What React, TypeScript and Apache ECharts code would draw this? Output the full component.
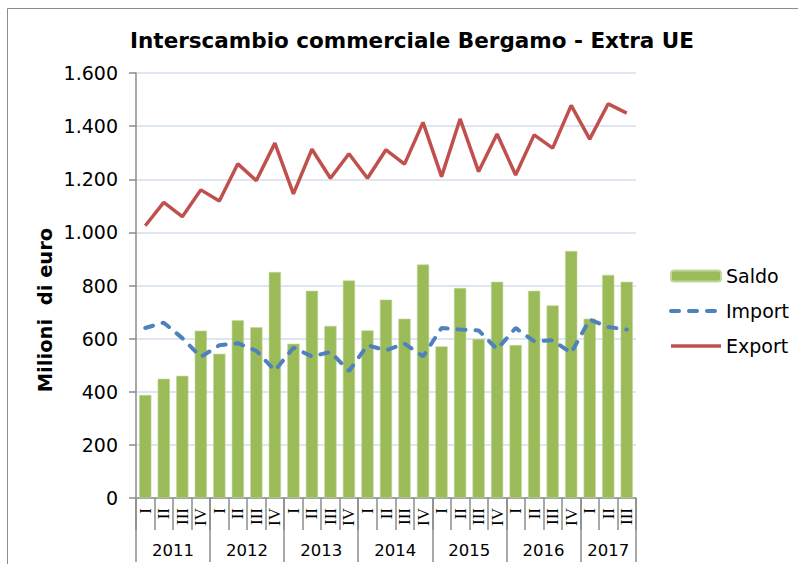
import React, { useEffect, useRef } from "react";
import * as echarts from "echarts";

const quarters = [
  "I", "II", "III", "IV",
  "I", "II", "III", "IV",
  "I", "II", "III", "IV",
  "I", "II", "III", "IV",
  "I", "II", "III", "IV",
  "I", "II", "III", "IV",
  "I", "II", "III",
];
const years = ["2011", "2012", "2013", "2014", "2015", "2016", "2017"];
const quartersPerYear = [4, 4, 4, 4, 4, 4, 3];

const saldo = [388, 449, 460, 630, 543, 669, 643, 851, 581, 780, 648, 819, 631, 747, 675, 879, 571, 791, 599, 814, 576, 780, 725, 930, 675, 840, 814];
const importVals = [640, 660, 602, 531, 575, 583, 554, 480, 566, 533, 550, 478, 575, 556, 581, 533, 640, 634, 631, 560, 640, 590, 594, 546, 672, 644, 634];
const exportVals = [1025, 1113, 1059, 1160, 1118, 1258, 1195, 1336, 1145, 1313, 1204, 1296, 1204, 1311, 1257, 1414, 1210, 1427, 1229, 1370, 1216, 1367, 1317, 1478, 1351, 1484, 1449];

const yTicks = { min: 0, max: 1600, interval: 200 };

function fmt(v: number): string {
  return String(v).replace(/\B(?=(\d{3})+(?!\d))/g, ".");
}

// Build a half-quarter point axis for year labels / separators
const yearPoints: string[] = [];
const yearTickIdx = new Set<number>();
const yearLabelIdx = new Set<number>();
{
  const totalHalves = quarters.length * 2;
  for (let i = 0; i <= totalHalves; i++) yearPoints.push("");
  let pos = 0;
  yearTickIdx.add(0);
  years.forEach((y, i) => {
    const n = quartersPerYear[i] * 2;
    const mid = pos + Math.round(n / 2);
    yearPoints[mid] = y;
    yearLabelIdx.add(mid);
    pos += n;
    yearTickIdx.add(pos);
  });
}

export default function App() {
  const ref = useRef<HTMLDivElement>(null);
  useEffect(() => {
    if (!ref.current) return;
    const chart = echarts.init(ref.current, undefined, { renderer: "svg" });
    const sans = "DejaVu Sans";
    const importLine = { color: "#4F81BD", width: 4, type: [8, 10], cap: "round" };
    const exportLine = { color: "#C0504D", width: 3.5 };
    chart.setOption({
      animation: false,
      backgroundColor: "#fff",
      title: {
        text: "Interscambio commerciale Bergamo - Extra UE",
        left: 407,
        top: 24,
        textAlign: "center",
        textStyle: { fontFamily: sans, fontWeight: "bold", fontSize: 21.5, color: "#000" },
      },
      graphic: [
        {
          type: "rect",
          shape: { x: 7.5, y: 8.5, width: 820, height: 700 },
          style: { fill: "none", stroke: "#8c8c8c", lineWidth: 1 },
          silent: true,
        },
        {
          type: "text",
          x: 45,
          y: 310,
          rotation: Math.PI / 2,
          style: {
            text: "Milioni  di euro",
            fontFamily: sans,
            fontWeight: "bold",
            fontSize: 19.5,
            fill: "#000",
            align: "center",
            verticalAlign: "middle",
          },
        },
      ],
      legend: {
        orient: "vertical",
        left: 664,
        top: 261,
        itemWidth: 50,
        itemHeight: 11,
        itemGap: 15,
        data: [
          { name: "Saldo" },
          { name: "Import", itemStyle: { opacity: 0 }, lineStyle: importLine },
          { name: "Export", itemStyle: { opacity: 0 }, lineStyle: exportLine },
        ],
        textStyle: { fontFamily: sans, fontSize: 19, color: "#000", lineHeight: 20 },
      },
      grid: { left: 136, right: 162, top: 73, bottom: 66, containLabel: false },
      xAxis: [
        {
          type: "category",
          data: quarters,
          position: "bottom",
          boundaryGap: true,
          axisLine: { show: true, lineStyle: { color: "#8c8c8c", width: 1.5 } },
          axisTick: { show: true, interval: 0, length: 32, lineStyle: { color: "#8c8c8c", width: 1.5 } },
          axisLabel: {
            interval: 0,
            rotate: 90,
            margin: 10,
            fontFamily: "Liberation Serif",
            fontSize: 17,
            color: "#000",
          },
        },
        {
          type: "category",
          data: yearPoints,
          position: "bottom",
          offset: 0,
          boundaryGap: false,
          axisLine: { show: false },
          axisTick: {
            show: true,
            length: 64,
            interval: (i: number) => yearTickIdx.has(i),
            lineStyle: { color: "#8c8c8c", width: 1.5 },
          },
          axisLabel: {
            interval: (i: number) => yearLabelIdx.has(i),
            margin: 44,
            fontFamily: sans,
            fontSize: 16.5,
            color: "#000",
          },
        },
      ],
      yAxis: {
        type: "value",
        min: yTicks.min,
        max: yTicks.max,
        interval: yTicks.interval,
        axisLine: { show: true, lineStyle: { color: "#8c8c8c", width: 1.5 } },
        axisTick: { show: true, length: 7, lineStyle: { color: "#8c8c8c", width: 1.5 } },
        axisLabel: {
          margin: 18,
          fontFamily: sans,
          fontSize: 19,
          color: "#000",
          formatter: (v: number) => fmt(v),
        },
        splitLine: { show: true, lineStyle: { color: "#d3deef", width: 1.5 } },
      },
      series: [
        {
          name: "Saldo",
          type: "bar",
          data: saldo,
          barWidth: "66%",
          itemStyle: { color: "#9BBB59", borderColor: "#c3d89b", borderWidth: 0.6 },
          z: 1,
        },
        {
          name: "Import",
          type: "line",
          data: importVals,
          symbol: "none",
          lineStyle: importLine,
          itemStyle: { color: "#4F81BD" },
          z: 3,
        },
        {
          name: "Export",
          type: "line",
          data: exportVals,
          symbol: "none",
          lineStyle: exportLine,
          itemStyle: { color: "#C0504D" },
          z: 4,
        },
      ],
    });
    return () => chart.dispose();
  }, []);
  return (
    <div
      ref={ref}
      style={{ position: "absolute", left: 0, top: 0, width: 798, height: 564 }}
    />
  );
}
